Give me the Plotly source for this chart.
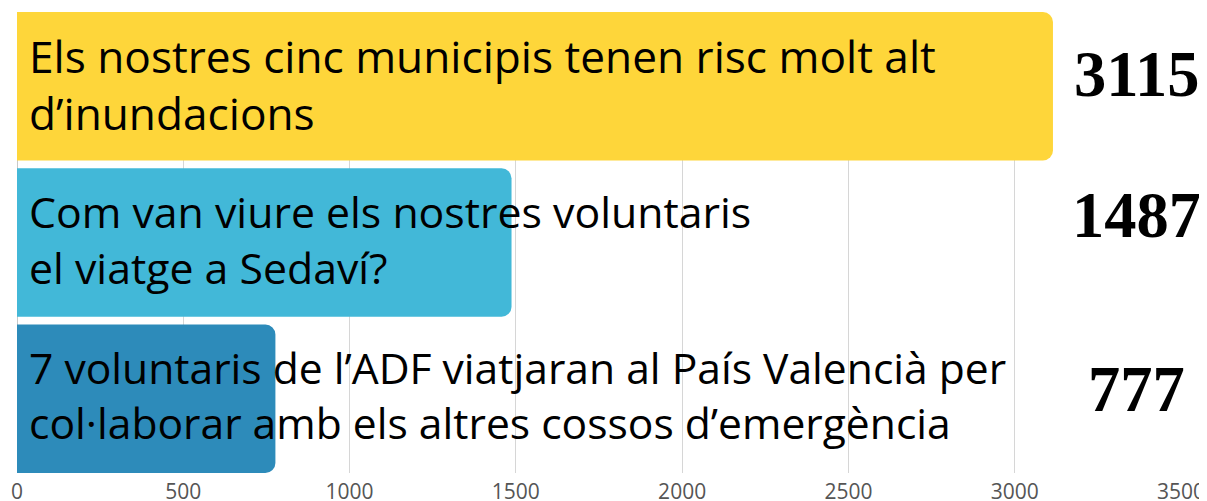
import plotly.graph_objects as go

categories = [
    "Els nostres cinc municipis tenen risc molt alt<br>d’inundacions",
    "Com van viure els nostres voluntaris<br>el viatge a Sedaví?",
    "7 voluntaris de l’ADF viatjaran al País Valencià per<br>col·laborar amb els altres cossos d’emergència",
]
values = [3115, 1487, 777]
value_labels = ["3115", "1487", "777"]
colors = ["#FED63A", "#42B8D8", "#2D8BBA"]
tick_vals = [0, 500, 1000, 1500, 2000, 2500, 3000, 3500]

keys = ["c0", "c1", "c2"]

fig = go.Figure()
fig.add_trace(go.Bar(
    x=values, y=keys, orientation="h",
    marker=dict(color=colors, cornerradius=10, line=dict(width=0)),
    width=0.95, hoverinfo="skip",
))

text_sizes = [44.2, 42.8, 42.6]
text_yshift = [2, 3, 4]
value_yshift = [12, 27, 9]
annotations = []
for k, cat, lab, fs, ts, ys in zip(keys, categories, value_labels, text_sizes, text_yshift, value_yshift):
    annotations.append(dict(
        x=0, y=k, xref="x", yref="y", text=cat, showarrow=False,
        xanchor="left", yanchor="middle", align="left", xshift=10, yshift=ts,
        font=dict(family="Open Sans", size=fs, color="#000000"),
    ))
    annotations.append(dict(
        x=3367, y=k, xref="x", yref="y",
        text="<b>" + lab + "</b>", showarrow=False,
        xanchor="center", yanchor="middle", yshift=ys,
        font=dict(family="Liberation Serif", size=64.5, color="#000000"),
    ))

fig.update_layout(
    width=1207, height=501,
    margin=dict(l=9, r=34, t=4, b=36, autoexpand=False),
    paper_bgcolor="white", plot_bgcolor="white",
    showlegend=False,
    annotations=annotations,
    xaxis=dict(
        range=[0, 3500], tickvals=tick_vals, ticktext=[str(v) for v in tick_vals],
        showgrid=True, gridcolor="#d6d6d6", gridwidth=1, zeroline=True,
        zerolinecolor="#c8c8c8", zerolinewidth=1, showline=False, automargin=False,
        ticks="", tickfont=dict(family="Open Sans", size=21, color="#555555"),
        ticklabelstandoff=4,
    ),
    yaxis=dict(
        categoryorder="array", categoryarray=keys, automargin=False,
        range=[2.475, -0.475], showticklabels=False, showgrid=False,
        zeroline=False, showline=False, ticks="",
    ),
)

fig.write_html("out.html")
